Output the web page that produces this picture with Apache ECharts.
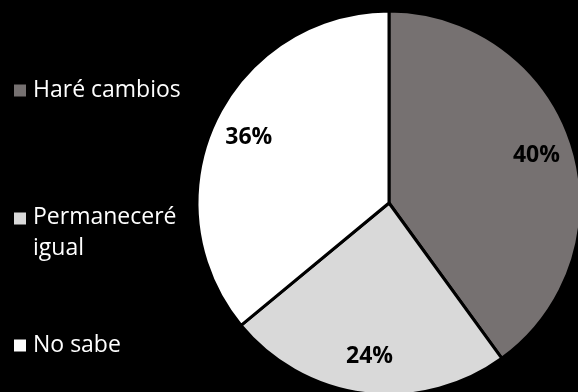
<!DOCTYPE html>
<html>
<head>
<meta charset="utf-8">
<style>
  html, body { margin: 0; padding: 0; background: #000; }
  #chart { width: 578px; height: 392px; }
</style>
<script src="https://cdn.jsdelivr.net/npm/echarts@6/dist/echarts.min.js"></script>
</head>
<body>
<div id="chart"></div>
<script>
  const categories = ['Haré cambios', 'Permaneceré igual', 'No sabe'];
  const values = [40, 24, 36];
  const colors = ['#767171', '#d9d9d9', '#ffffff'];

  const font = '"Open Sans", Lato, sans-serif';
  const center = [389, 203];

  const pieData = categories.map((name, i) => ({
    name,
    value: values[i],
    itemStyle: {color: colors[i]}
  }));

  // one legend per entry so the two-line item can sit where the original does
  function legend(name, top, icon, itemHeight) {
    return {
      orient: 'vertical',
      left: 9,
      top,
      data: [name],
      icon,
      itemWidth: 12,
      itemHeight,
      itemStyle: {borderWidth: 0},
      formatter: n => n === 'Permaneceré igual' ? 'Permaneceré\nigual' : n,
      textStyle: {
        color: '#fff',
        fontFamily: font,
        fontSize: 23,
        lineHeight: 31,
        padding: [0, 0, 0, 2]
      }
    };
  }

  const chart = echarts.init(document.getElementById('chart'));

  chart.setOption({
    backgroundColor: '#000',
    animation: false,
    legend: [
      legend(categories[0], 70, 'rect', 12),
      legend(categories[1], 197, 'path://M0,0L12,0M0,10.5h12v12h-12zM0,62L12,62', 62),
      legend(categories[2], 325, 'rect', 12)
    ],
    series: [{
      type: 'pie',
      center,
      radius: 192,
      startAngle: 90,
      clockwise: true,
      silent: true,
      label: {show: false},
      labelLine: {show: false},
      itemStyle: {borderColor: '#000', borderWidth: 3},
      data: pieData
    }, {
      // invisible ring that only carries the percentage labels
      type: 'pie',
      center,
      radius: [112, 192],
      startAngle: 90,
      clockwise: true,
      silent: true,
      itemStyle: {color: 'transparent', borderWidth: 0},
      label: {
        show: true,
        position: 'inside',
        formatter: p => p.value + '%',
        color: '#000',
        fontFamily: font,
        fontWeight: 'bold',
        fontSize: 23
      },
      labelLine: {show: false},
      data: categories.map((name, i) => ({name, value: values[i]}))
    }]
  });
</script>
</body>
</html>
